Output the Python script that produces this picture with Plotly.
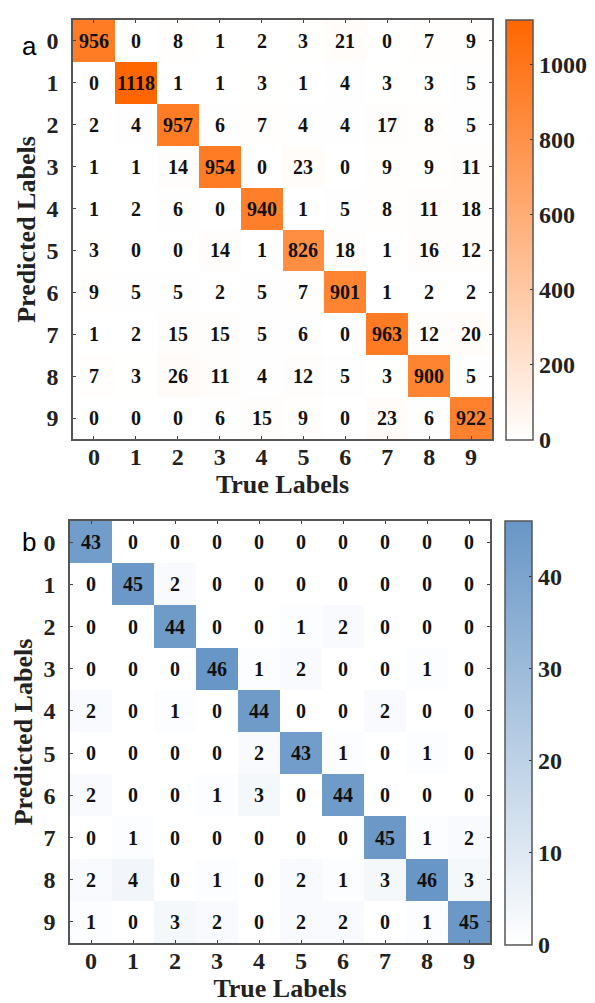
import plotly.graph_objects as go

labels = [str(i) for i in range(10)]

cm_a = [
    [956, 0, 8, 1, 2, 3, 21, 0, 7, 9],
    [0, 1118, 1, 1, 3, 1, 4, 3, 3, 5],
    [2, 4, 957, 6, 7, 4, 4, 17, 8, 5],
    [1, 1, 14, 954, 0, 23, 0, 9, 9, 11],
    [1, 2, 6, 0, 940, 1, 5, 8, 11, 18],
    [3, 0, 0, 14, 1, 826, 18, 1, 16, 12],
    [9, 5, 5, 2, 5, 7, 901, 1, 2, 2],
    [1, 2, 15, 15, 5, 6, 0, 963, 12, 20],
    [7, 3, 26, 11, 4, 12, 5, 3, 900, 5],
    [0, 0, 0, 6, 15, 9, 0, 23, 6, 922],
]

cm_b = [
    [43, 0, 0, 0, 0, 0, 0, 0, 0, 0],
    [0, 45, 2, 0, 0, 0, 0, 0, 0, 0],
    [0, 0, 44, 0, 0, 1, 2, 0, 0, 0],
    [0, 0, 0, 46, 1, 2, 0, 0, 1, 0],
    [2, 0, 1, 0, 44, 0, 0, 2, 0, 0],
    [0, 0, 0, 0, 2, 43, 1, 0, 1, 0],
    [2, 0, 0, 1, 3, 0, 44, 0, 0, 0],
    [0, 1, 0, 0, 0, 0, 0, 45, 1, 2],
    [2, 4, 0, 1, 0, 2, 1, 3, 46, 3],
    [1, 0, 3, 2, 0, 2, 2, 0, 1, 45],
]

cb_ticks_a = [0, 200, 400, 600, 800, 1000]
cb_ticks_b = [0, 10, 20, 30, 40]

W, H = 595, 1003
SERIF = "Liberation Serif, Times New Roman, serif"
FRAME = "#555555"

def py(p):
    return 1 - p / H

fig = go.Figure()

fig.add_trace(go.Heatmap(
    z=cm_a, x=labels, y=labels, xaxis="x", yaxis="y",
    colorscale=[[0, "rgb(255,255,255)"], [1, "rgb(255,102,0)"]],
    zmin=0, zmax=max(max(r) for r in cm_a),
    text=cm_a, texttemplate="%{text}",
    textfont=dict(family=SERIF, size=20, color="#111111", weight="bold"),
    colorbar=dict(
        x=498 / W, xanchor="left", y=py(222), yanchor="middle",
        len=420, lenmode="pixels", thickness=27, thicknessmode="pixels",
        outlinecolor=FRAME, outlinewidth=1.5,
        tickvals=cb_ticks_a, ticks="inside", ticklen=3, tickcolor="#333",
        tickfont=dict(family=SERIF, size=24, color="#222", weight="bold"),
        xpad=0, ypad=0,
    ),
))

fig.add_trace(go.Heatmap(
    z=cm_b, x=labels, y=labels, xaxis="x2", yaxis="y2",
    colorscale=[[0, "rgb(255,255,255)"], [1, "rgb(104,150,198)"]],
    zmin=0, zmax=max(max(r) for r in cm_b),
    text=cm_b, texttemplate="%{text}",
    textfont=dict(family=SERIF, size=20, color="#111111", weight="bold"),
    colorbar=dict(
        x=497 / W, xanchor="left", y=py(725), yanchor="middle",
        len=424, lenmode="pixels", thickness=27, thicknessmode="pixels",
        outlinecolor=FRAME, outlinewidth=1.5,
        tickvals=cb_ticks_b, ticks="inside", ticklen=3, tickcolor="#333",
        tickfont=dict(family=SERIF, size=24, color="#222", weight="bold"),
        xpad=0, ypad=0,
    ),
))

axis_common = dict(
    showline=True, linecolor=FRAME, linewidth=1.5, mirror="ticks",
    ticks="inside", ticklen=3, tickcolor="#444", showgrid=False, zeroline=False,
    tickfont=dict(family=SERIF, size=24, color="#222", weight="bold"),
    fixedrange=True,
)
title_font = dict(family=SERIF, size=26, color="#222", weight="bold")

fig.update_layout(
    width=W, height=H, margin=dict(l=0, r=0, t=0, b=0),
    paper_bgcolor="white", plot_bgcolor="white",
    xaxis=dict(domain=[65 / W, 484 / W], anchor="y", **axis_common,
               title=dict(text="True Labels", font=title_font, standoff=2),
               ticklabelstandoff=-5),
    yaxis=dict(domain=[py(431), py(12)], anchor="x", autorange="reversed", **axis_common,
               title=dict(text="Predicted Labels", font=title_font, standoff=3),
               ticklabelstandoff=8),
    xaxis2=dict(domain=[62 / W, 482 / W], anchor="y2", **axis_common,
                title=dict(text="True Labels", font=title_font, standoff=2),
                ticklabelstandoff=-5),
    yaxis2=dict(domain=[py(935), py(513)], anchor="x2", autorange="reversed", **axis_common,
                title=dict(text="Predicted Labels", font=title_font, standoff=3),
                ticklabelstandoff=8),
    annotations=[
        dict(text="a", x=12 / W, y=py(38), xref="paper", yref="paper",
             xanchor="left", yanchor="middle", showarrow=False,
             font=dict(family="Liberation Sans, Arial, sans-serif", size=26, color="black")),
        dict(text="b", x=12 / W, y=py(534), xref="paper", yref="paper",
             xanchor="left", yanchor="middle", showarrow=False,
             font=dict(family="Liberation Sans, Arial, sans-serif", size=26, color="black")),
    ],
)

fig.write_html("out.html")
